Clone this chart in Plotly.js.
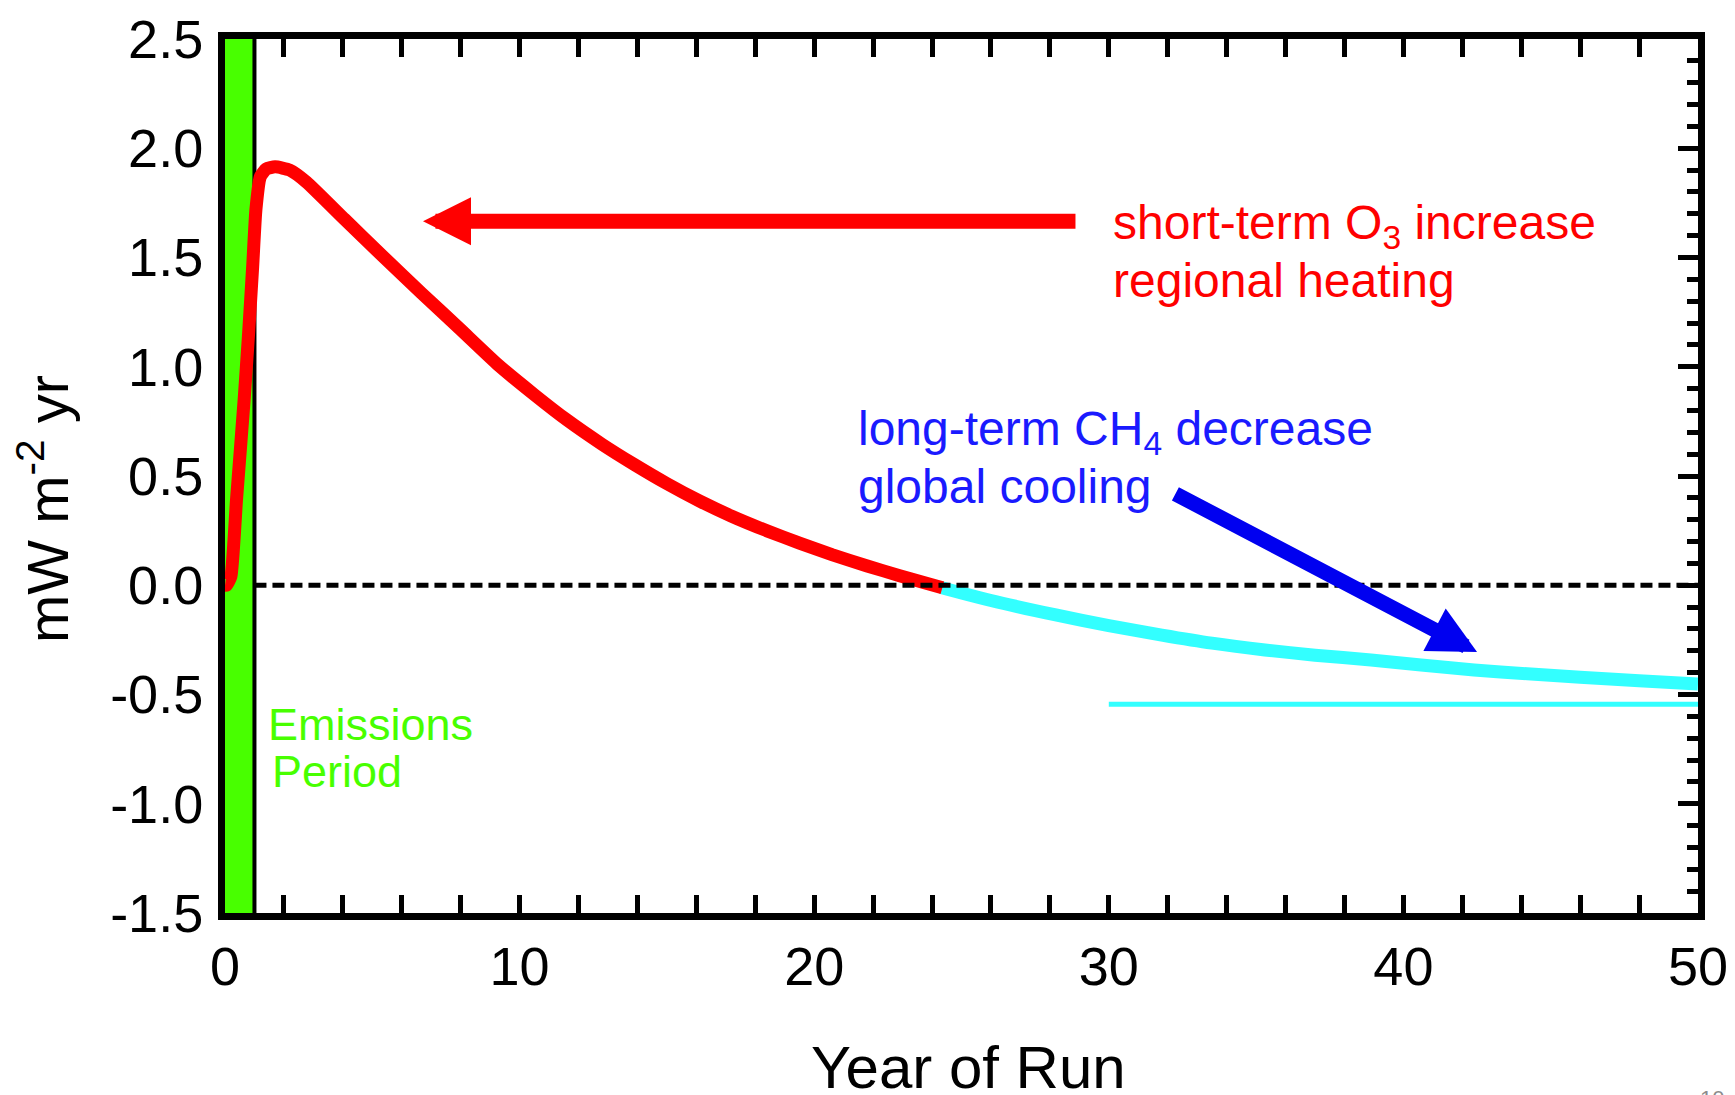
<!DOCTYPE html>
<html><head><meta charset="utf-8">
<script src="https://cdn.plot.ly/plotly-3.0.1.min.js"></script>
<style>html,body{margin:0;padding:0;background:#fff;} #chart{width:1735px;height:1095px;}</style>
</head><body><div id="chart"></div>
<script>
// ---- data ----
const o3Years   = [0, 0.05, 0.2, 0.39, 0.65, 0.8, 0.94, 1.05, 1.2, 1.4, 1.7, 2.2, 2.76, 4.06, 5.36, 6.66, 7.95, 9.3, 10.5, 11.6, 12.8, 13.9, 15.0, 16.1, 17.2, 18.4, 19.5, 20.6, 21.8, 22.9, 24.35];
const o3Forcing = [0, 0, 0.04, 0.39, 0.85, 1.15, 1.46, 1.72, 1.87, 1.905, 1.915, 1.9, 1.846, 1.675, 1.505, 1.338, 1.176, 1.005, 0.872, 0.757, 0.645, 0.552, 0.465, 0.386, 0.316, 0.249, 0.193, 0.140, 0.088, 0.044, -0.012];
const ch4Years   = [24.3, 26, 28.2, 30, 31.8, 33.5, 35.3, 37, 38.9, 40.6, 42.4, 44.2, 46, 48, 50];
const ch4Forcing = [-0.01, -0.07, -0.136, -0.185, -0.228, -0.265, -0.296, -0.32, -0.342, -0.365, -0.388, -0.405, -0.421, -0.437, -0.452];
const ch4AsymptoteYears   = [30, 50];
const ch4AsymptoteForcing = [-0.545, -0.545];
const zeroLineYears  = [1, 50];
const zeroLineValues = [0, 0];
const emissionsPeriod = [0, 1];
const xRange = [0, 50];
const yRange = [-1.5, 2.5];
const yTickVals = [2.5, 2.0, 1.5, 1.0, 0.5, 0.0, -0.5, -1.0, -1.5];
const yTickText = ['2.5', '2.0', '1.5', '1.0', '0.5', '0.0', '-0.5', '-1.0', '-1.5'];
const o3ArrowTail  = [28.92, 1.666];
const o3ArrowTip   = [6.72, 1.666];
const ch4ArrowTail = [32.21, 0.422];
const ch4ArrowTip  = [42.5, -0.306];

// ---- layout geometry ----
const W = 1735, H = 1095;
const M = {l: 225, r: 37, t: 39, b: 182};
const PW = W - M.l - M.r, PH = H - M.t - M.b;
const px = x => (x - M.l) / PW;
const py = y => (H - M.b - y) / PH;

const FONT = 'Liberation Sans, Arial, Helvetica, sans-serif';
const RED = '#ff0000', CYAN = '#33ffff', GREEN = '#48ff00', BLUE = '#1a1aff', ARROWBLUE = '#0000f0';

const traces = [
  {x: ch4AsymptoteYears, y: ch4AsymptoteForcing, mode: 'lines', line: {color: CYAN, width: 5}, hoverinfo: 'skip'},
  {x: ch4Years, y: ch4Forcing, mode: 'lines', line: {color: CYAN, width: 13, shape: 'spline', smoothing: 0.6}, hoverinfo: 'skip'},
  {x: o3Years, y: o3Forcing, mode: 'lines', line: {color: RED, width: 13, shape: 'spline', smoothing: 0.5}, hoverinfo: 'skip'},
  {x: zeroLineYears, y: zeroLineValues, yaxis: 'y2', mode: 'lines', line: {color: 'black', width: 5, dash: '12px,6px'}, hoverinfo: 'skip'}
];

function textAnn(text, left, top, size, color) {
  return {text: text, xref: 'paper', yref: 'paper', x: px(left), y: py(top), xanchor: 'left', yanchor: 'top',
          showarrow: false, font: {family: FONT, size: size, color: color}};
}
function arrowAnn(tail, tip, color) {
  return {text: '', xref: 'x', yref: 'y', axref: 'x', ayref: 'y', x: tip[0], y: tip[1], ax: tail[0], ay: tail[1],
          showarrow: true, arrowhead: 2, arrowsize: 0.64, arrowwidth: 15, arrowcolor: color, standoff: 0,
          font: {size: 1}};
}

const annotations = [
  textAnn('short-term O<sub>3</sub> increase', 1111, 193.6, 48, RED),
  textAnn('regional heating', 1111, 251.6, 48, RED),
  textAnn('long-term CH<sub>4</sub> decrease', 856, 399.6, 48, BLUE),
  textAnn('global cooling', 856, 457.6, 48, BLUE),
  textAnn('Emissions', 266, 697, 45, GREEN),
  textAnn('Period', 270, 744, 45, GREEN),
  arrowAnn(o3ArrowTail, o3ArrowTip, RED),
  arrowAnn(ch4ArrowTail, ch4ArrowTip, ARROWBLUE),
  {text: 'mW m<sup>-2</sup> yr', xref: 'paper', yref: 'paper', x: px(44), y: py(509), xanchor: 'center', yanchor: 'middle',
   textangle: -90, showarrow: false, font: {family: FONT, size: 58, color: 'black'}},
  {text: 'Year of Run', xref: 'paper', yref: 'paper', x: px(968), y: py(1032), xanchor: 'center', yanchor: 'top',
   showarrow: false, font: {family: FONT, size: 60, color: 'black'}},
  {text: '10', xref: 'paper', yref: 'paper', x: px(1712), y: py(1084), xanchor: 'center', yanchor: 'top',
   showarrow: false, font: {family: FONT, size: 22, color: '#8c8c8c'}}
];

const shapes = [
  {type: 'rect', xref: 'x', yref: 'y', x0: emissionsPeriod[0], x1: emissionsPeriod[1], y0: yRange[0], y1: yRange[1],
   fillcolor: GREEN, line: {width: 0}, layer: 'below'},
  {type: 'line', xref: 'x', yref: 'y', x0: emissionsPeriod[1], x1: emissionsPeriod[1], y0: yRange[0], y1: yRange[1],
   line: {color: 'black', width: 4}, layer: 'below'}
];

const layout = {
  width: W, height: H,
  margin: {l: M.l, r: M.r, t: M.t, b: M.b, pad: 0},
  paper_bgcolor: 'white', plot_bgcolor: 'white',
  showlegend: false,
  font: {family: FONT, color: 'black'},
  xaxis: {
    range: xRange, tickmode: 'linear', tick0: 0, dtick: 10,
    ticks: 'inside', ticklen: 18, tickwidth: 5, tickcolor: 'black',
    minor: {dtick: 2, ticks: 'inside', ticklen: 9, tickwidth: 5, tickcolor: 'black', showgrid: false},
    showline: true, linewidth: 7, linecolor: 'black', mirror: 'allticks',
    showgrid: false, zeroline: false,
    tickfont: {family: FONT, size: 54, color: 'black'}, ticklabelstandoff: 0
  },
  yaxis: {
    range: yRange, tickmode: 'array', tickvals: yTickVals, ticktext: yTickText,
    ticks: '', showline: true, linewidth: 7, linecolor: 'black', mirror: false,
    showgrid: false, zeroline: false,
    tickfont: {family: FONT, size: 54, color: 'black'}, ticklabelstandoff: 4
  },
  yaxis2: {
    range: yRange, overlaying: 'y', side: 'right', anchor: 'x',
    tickmode: 'linear', tick0: 0, dtick: 0.5,
    ticks: 'inside', ticklen: 20, tickwidth: 5, tickcolor: 'black',
    minor: {dtick: 0.1, ticks: 'inside', ticklen: 11, tickwidth: 5, tickcolor: 'black', showgrid: false},
    showticklabels: false, showline: true, linewidth: 7, linecolor: 'black',
    showgrid: false, zeroline: false
  },
  shapes: shapes,
  annotations: annotations
};

Plotly.newPlot('chart', traces, layout, {staticPlot: true, displayModeBar: false});
</script>
</body></html>
